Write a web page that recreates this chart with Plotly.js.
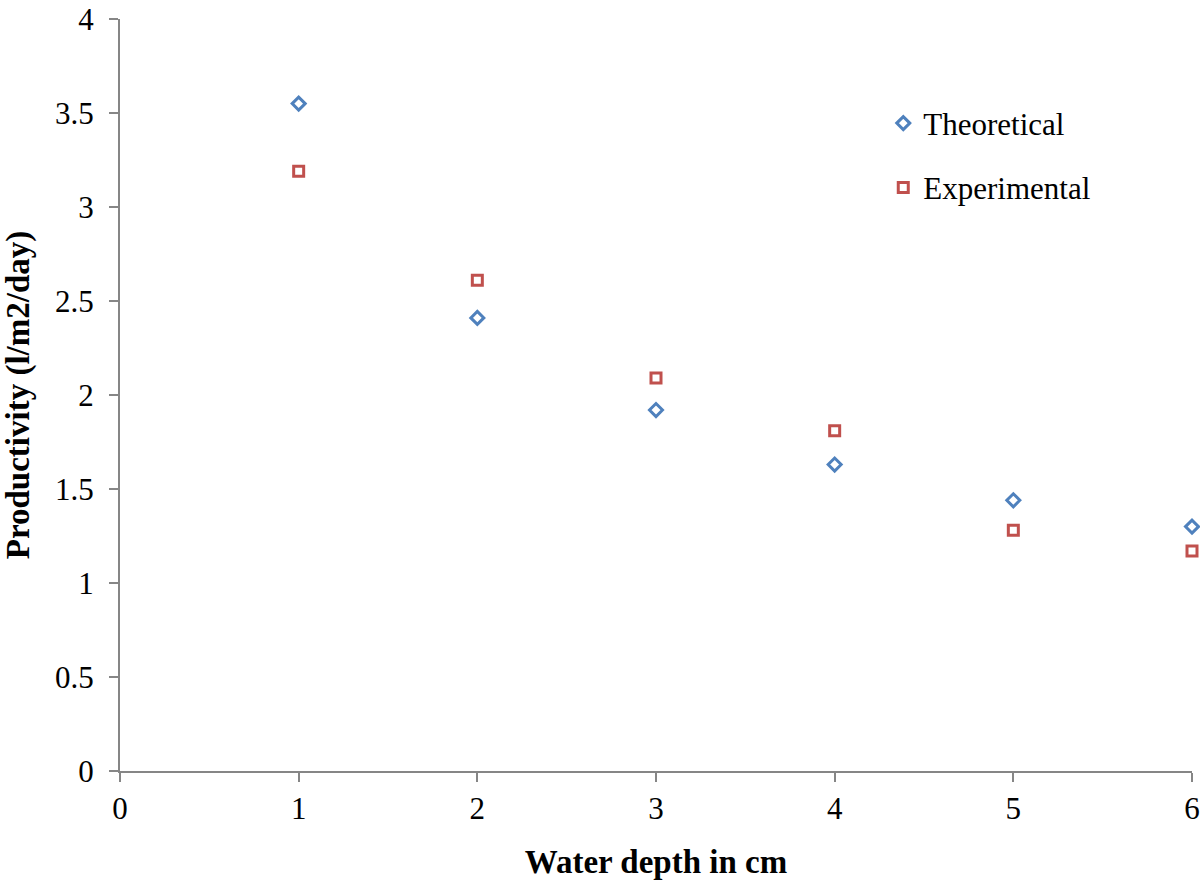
<!DOCTYPE html>
<html>
<head>
<meta charset="utf-8">
<script src="https://cdn.plot.ly/plotly-3.0.1.min.js"></script>
<style>
  html, body {margin: 0; padding: 0; background: #fff;}
  #chart {width: 1200px; height: 880px;}
</style>
</head>
<body>
<div id="chart"></div>
<script>

// Data
var depth = [1, 2, 3, 4, 5, 6]
var theoretical = [3.55, 2.41, 1.92, 1.63, 1.44, 1.30]
var experimental = [3.19, 2.61, 2.09, 1.81, 1.28, 1.17]

var xTicks = [0, 1, 2, 3, 4, 5, 6]
var yTicks = [0, 0.5, 1, 1.5, 2, 2.5, 3, 3.5, 4]
var yTickText = ['0', '0.5', '1', '1.5', '2', '2.5', '3', '3.5', '4']

var blue = '#4F81BD'
var red = '#C0504D'
var axisGrey = '#868686'
var serif = '"Liberation Serif", "Times New Roman", serif'


var data = [
    {
        name: 'Theoretical',
        x: depth,
        y: theoretical,
        type: 'scatter',
        mode: 'markers',
        cliponaxis: false,
        legendgroup: 'a',
        marker: {symbol: 'diamond-open', size: 10, color: blue, line: {width: 3, color: blue}},
    },
    {
        name: 'Experimental',
        x: depth,
        y: experimental,
        type: 'scatter',
        mode: 'markers',
        cliponaxis: false,
        legendgroup: 'b',
        marker: {symbol: 'square-open', size: 10, color: red, line: {width: 3, color: red}},
    },
]

const layout = {
    width: 1200,
    height: 880,
    paper_bgcolor: '#fff',
    plot_bgcolor: '#fff',
    font: {family: serif, size: 31, color: '#000'},
    margin: {l: 120, r: 8, t: 19, b: 109},
    showlegend: true,
    legend: {
        x: 0.712,
        y: 0.897,
        xanchor: 'left',
        yanchor: 'top',
        bgcolor: 'rgba(0,0,0,0)',
        font: {family: serif, size: 31, color: '#000'},
        traceorder: 'grouped',
        tracegroupgap: 21,
    },
    xaxis: {
        range: [0, 6],
        tickvals: xTicks,
        ticktext: xTicks.map(String),
        showgrid: false,
        zeroline: false,
        showline: true,
        linecolor: axisGrey,
        linewidth: 2,
        ticks: 'outside',
        ticklen: 9,
        tickwidth: 2,
        tickcolor: axisGrey,
        tickfont: {family: serif, size: 31, color: '#000'},
        fixedrange: true,
        title: {
            text: '<b>Water depth in cm</b>',
            font: {family: serif, size: 33, color: '#000'},
            standoff: 28,
        },
    },
    yaxis: {
        range: [0, 4],
        tickvals: yTicks,
        ticktext: yTickText,
        showgrid: false,
        zeroline: false,
        showline: true,
        linecolor: axisGrey,
        linewidth: 2,
        ticks: 'outside',
        ticklen: 9,
        tickwidth: 2,
        tickcolor: axisGrey,
        ticklabelstandoff: 9,
        tickfont: {family: serif, size: 31, color: '#000'},
        fixedrange: true,
        title: {
            text: '<b>Productivity (l/m2/day)</b>',
            font: {family: serif, size: 33, color: '#000'},
            standoff: 22,
        },
    },
}

Plotly.newPlot('chart', data, layout, {displayModeBar: false, staticPlot: true})

</script>
</body>
</html>
